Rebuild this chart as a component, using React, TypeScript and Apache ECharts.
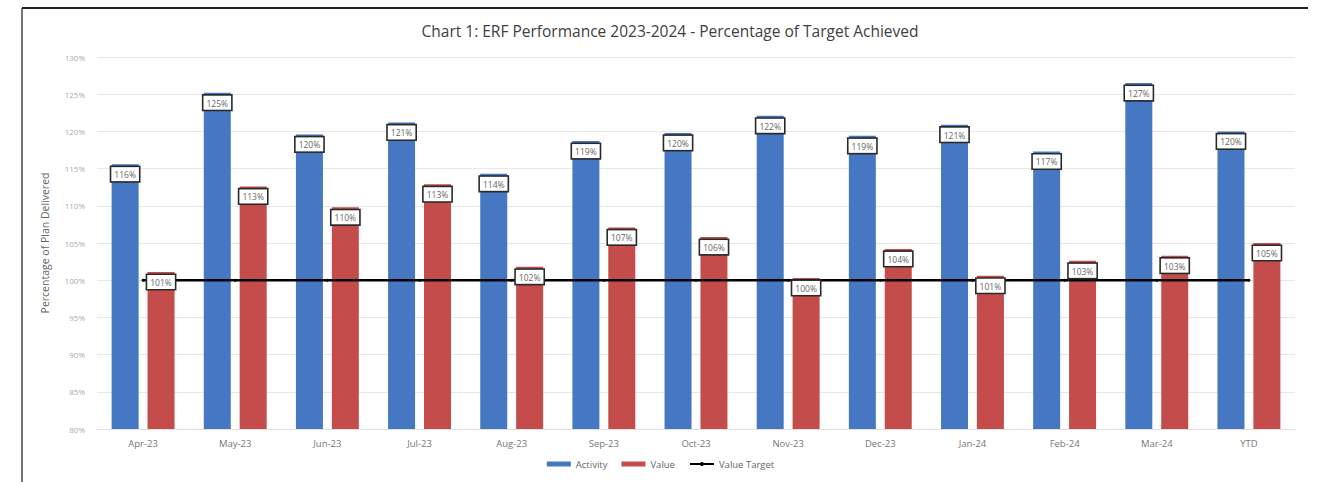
import React, { useEffect, useRef } from "react";
import * as echarts from "echarts";

const categories = ["Apr-23", "May-23", "Jun-23", "Jul-23", "Aug-23", "Sep-23", "Oct-23", "Nov-23", "Dec-23", "Jan-24", "Feb-24", "Mar-24", "YTD"];
const activity = [115.6, 125.2, 119.6, 121.2, 114.3, 118.7, 119.8, 122.1, 119.4, 120.9, 117.3, 126.5, 120.0];
const valueSeries = [101.1, 112.6, 109.8, 112.9, 101.8, 107.1, 105.8, 100.3, 104.2, 100.6, 102.6, 103.3, 105.0];
const target = [100, 100, 100, 100, 100, 100, 100, 100, 100, 100, 100, 100, 100];
const yTicks = { min: 80, max: 130, interval: 5 };

const FONT = "'Open Sans', 'Liberation Sans', sans-serif";

export default function App() {
  const ref = useRef<HTMLDivElement>(null);
  useEffect(() => {
    if (!ref.current) return;
    const chart = echarts.init(ref.current, undefined, { renderer: "svg" });
    const label = {
      show: true,
      position: "insideTop",
      distance: 3,
      formatter: (p: any) => Math.round(p.value) + "%",
      backgroundColor: "#ffffff",
      borderColor: "#2a2a2a",
      borderWidth: 1.6,
      padding: [3, 3, 2, 3],
      fontSize: 8.5,
      color: "#666",
      fontFamily: FONT,
    };
    const barCommon = { type: "bar", barWidth: 27, barGap: "33%" };
    chart.setOption({
      animation: false,
      backgroundColor: "#ffffff",
      textStyle: { fontFamily: FONT },
      title: {
        text: "Chart 1: ERF Performance 2023-2024 - Percentage of Target Achieved",
        left: 665,
        top: 18,
        textAlign: "center",
        textStyle: { fontSize: 15.5, fontWeight: "normal", color: "#404040", fontFamily: FONT },
      },
      graphic: [
        { type: "line", shape: { x1: 22, y1: 8, x2: 1308, y2: 8 }, style: { stroke: "#222", lineWidth: 2 } },
        { type: "line", shape: { x1: 22, y1: 8, x2: 22, y2: 482 }, style: { stroke: "#444", lineWidth: 1.5 } },
      ],
      legend: {
        bottom: 8,
        left: "center",
        itemWidth: 24,
        itemHeight: 5,
        itemGap: 14,
        textStyle: { fontSize: 9.5, color: "#666", fontFamily: FONT },
        data: [
          { name: "Activity", icon: "rect" },
          { name: "Value", icon: "rect" },
          { name: "Value Target" },
        ],
      },
      grid: { left: 97, right: 26, top: 57, bottom: 53 },
      xAxis: [
        {
          type: "category",
          data: categories,
          axisLine: { show: true, lineStyle: { color: "#e0e0e0" } },
          axisTick: { show: false },
          axisLabel: { fontSize: 9.5, color: "#777", margin: 9 },
        },
        { type: "category", data: categories, show: false },
      ],
      yAxis: {
        type: "value",
        min: yTicks.min,
        max: yTicks.max,
        interval: yTicks.interval,
        name: "Percentage of Plan Delivered",
        nameLocation: "middle",
        nameGap: 47,
        nameTextStyle: { fontSize: 10.5, color: "#666" },
        axisLine: { show: false },
        axisTick: { show: false },
        axisLabel: { formatter: (v: number) => v + "%", fontSize: 8, color: "#aaa", margin: 12 },
        splitLine: { lineStyle: { color: "#e8e8e8" } },
      },
      series: [
        { ...barCommon, name: "Activity", data: activity, itemStyle: { color: "#4677c2" }, z: 2 },
        { ...barCommon, name: "Value", data: valueSeries, itemStyle: { color: "#c44d4b" }, z: 2 },
        {
          name: "Value Target",
          type: "line",
          data: target,
          symbol: "circle",
          symbolSize: 3,
          itemStyle: { color: "#000" },
          lineStyle: { color: "#000", width: 2.5 },
          z: 3,
        },
        {
          ...barCommon,
          name: "Activity labels",
          xAxisIndex: 1,
          data: activity,
          itemStyle: { color: "rgba(0,0,0,0)" },
          label,
          silent: true,
          z: 5,
        },
        {
          ...barCommon,
          name: "Value labels",
          xAxisIndex: 1,
          data: valueSeries,
          itemStyle: { color: "rgba(0,0,0,0)" },
          label,
          silent: true,
          z: 5,
        },
      ],
    });
    return () => chart.dispose();
  }, []);
  return <div ref={ref} style={{ position: "absolute", left: 0, top: 0, width: 1321, height: 482 }} />;
}
